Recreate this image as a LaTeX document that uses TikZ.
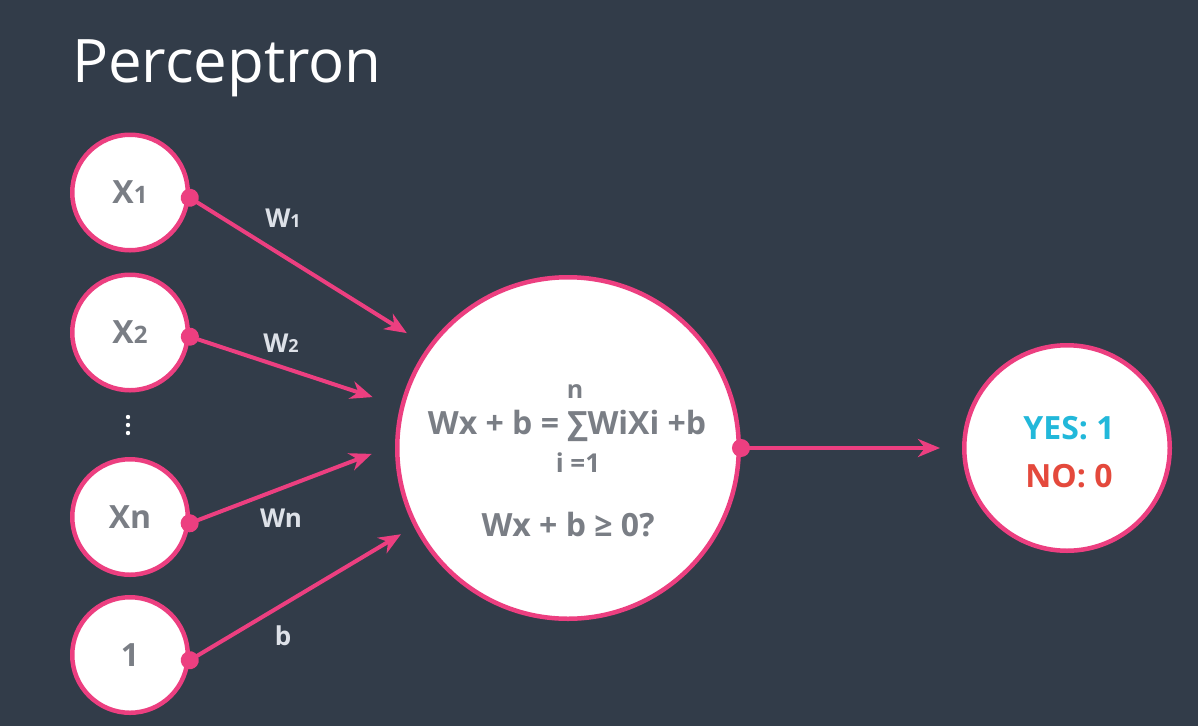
\documentclass[tikz,border=0pt]{standalone}
\usepackage{fontspec}
\setmainfont{Open Sans}
\usepackage{tikz}
\usetikzlibrary{positioning,arrows.meta}
\definecolor{slate}{HTML}{323C49}
\definecolor{rose}{HTML}{EC3F80}
\definecolor{ink}{HTML}{7A7E85}
\definecolor{pale}{HTML}{DDE1E8}
\definecolor{yescol}{HTML}{22B8DA}
\definecolor{nocol}{HTML}{E4493C}
\newcommand{\fs}[1]{\fontsize{#1}{#1}\selectfont}

\begin{document}
\begin{tikzpicture}[x=1pt, y=-1pt,
  unit/.style={circle, draw=rose, fill=white, line width=4.5pt, inner sep=0pt,
    font=\bfseries\fs{32}, text=ink},
  wlbl/.style={anchor=base, inner sep=0pt, font=\bfseries\fs{26}, text=pale},
  eqn/.style={anchor=base, inner sep=0pt, font=\bfseries\fs{32}, text=ink},
  arr/.style={rose, line width=4pt, shorten <=-9pt,
    {Circle[length=18pt]}-{Stealth[length=22pt, width=18pt, inset=7pt]}}
]
\fill[slate] (0,0) rectangle (1198,726);
\useasboundingbox (0,0) rectangle (1198,726);
\node[anchor=base west, inner sep=0pt, text=white, font=\fs{60}] (title) at (72,82) {Perceptron};

% inputs
\node[unit, minimum size=115.5pt] (x1) at (130,192.5) {X{\fs{24}1}};
\node[unit, minimum size=115.5pt] (x2) at (130,332.5) {X{\fs{24}2}};
\node[unit, minimum size=115.5pt] (xn) at (130,517) {Xn};
\node[unit, minimum size=115.5pt] (one) at (130,655) {1};
\foreach \k in {417,425,433}
  \fill[white] (128,\k) circle (2.2pt);

% neuron and output
\node[unit, minimum size=341.5pt] (sum) at (568,448) {};
\node[eqn] (eq) at (567,434) {Wx + b = ∑WiXi +b};
\node[eqn, font=\bfseries\fs{25}] (up) at (575,398) {n};
\node[eqn, font=\bfseries\fs{26}] (low) at (578,472) {i =1};
\node[eqn] (test) at (568,536) {Wx + b ≥ 0?};
\node[unit, minimum size=205.5pt] (out) at (1067,448) {};
\node[anchor=base, inner sep=0pt, text=yescol, font=\bfseries\fs{32}] (yes) at (1069,439) {YES: 1};
\node[anchor=base, inner sep=0pt, text=nocol, font=\bfseries\fs{32}] (no) at (1069,487) {NO: 0};

% weights
\draw[arr, shorten >=25pt] (x1.-5) -- (sum.144);
\draw[arr, shorten >=29pt] (x2.-4) -- (sum.166);
\draw[arr, shorten >=25pt] (xn.-6) -- (sum.179);
\draw[arr, shorten >=15pt] (one.-5) -- (sum.207);
\draw[arr, shorten >=22pt] (sum.east) -- (out.west);
\node[wlbl] (w1) at (283,227) {W{\fs{18}1}};
\node[wlbl] (w2) at (281,352) {W{\fs{18}2}};
\node[wlbl] (wn) at (281,527) {Wn};
\node[wlbl] (wb) at (283,645) {b};
\end{tikzpicture}
\end{document}
